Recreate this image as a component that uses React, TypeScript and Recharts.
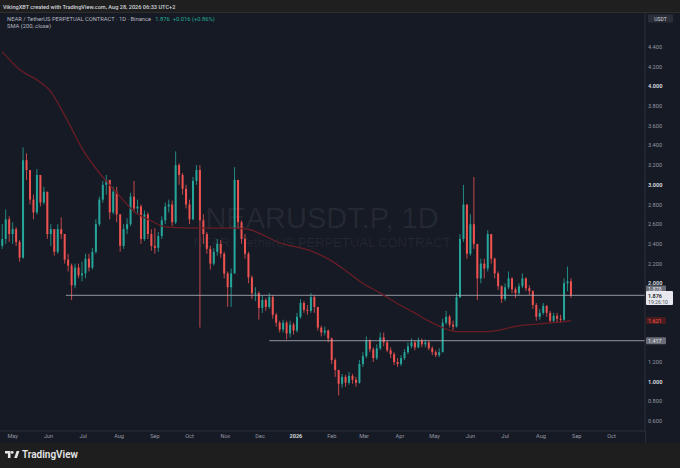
import React from 'react';
import { ComposedChart, Bar, Line, XAxis, YAxis, ReferenceLine } from 'recharts';

const DAY_MS = 86400000;
const FIRST_CANDLE = '2025-04-22';
const CANDLE_STEP_DAYS = 3;

// 3-day candles (open = previous close)
const firstOpen = 2.38;
const closes = [
  2.45, 2.65, 2.5, 2.55, 2.42, 2.26, 3.25, 3.15, 2.85, 2.72,
  3.1, 2.82, 2.93, 2.5, 2.55, 2.32, 2.55, 2.5, 2.24, 2.18,
  1.98, 2.16, 2.08, 2.1, 2.25, 2.16, 2.32, 2.6, 2.85, 3.0,
  3.05, 2.72, 2.93, 2.7, 2.38, 2.55, 2.6, 2.88, 2.76, 2.78,
  2.45, 2.7, 2.5, 2.38, 2.36, 2.48, 2.64, 2.78, 2.8, 2.62,
  3.2, 3.1, 2.96, 2.8, 2.65, 3.04, 3.15, 2.64, 2.5, 2.35,
  2.2, 2.32, 2.4, 2.3, 2.1, 1.96, 2.1, 3.05, 2.62, 2.45,
  2.3, 2.06, 1.9, 1.9, 1.75, 1.83, 1.76, 1.86, 1.68, 1.6,
  1.53, 1.6, 1.49, 1.58, 1.52, 1.66, 1.8, 1.73, 1.72, 1.86,
  1.76, 1.55, 1.5, 1.52, 1.44, 1.22, 1.12, 0.98, 1.05, 0.99,
  1.06, 1.02, 0.99, 1.18, 1.26, 1.42, 1.33, 1.24, 1.34, 1.45,
  1.4, 1.32, 1.28, 1.2, 1.18, 1.24, 1.3, 1.36, 1.4, 1.35,
  1.42, 1.38, 1.4, 1.34, 1.3, 1.27, 1.3, 1.6, 1.66, 1.58,
  1.56, 1.86, 2.45, 2.8, 2.3, 2.6, 2.4, 2.05, 2.2, 2.15,
  2.5, 2.25, 2.1, 1.97, 1.84, 1.96, 2.05, 1.94, 1.9, 1.97,
  2.05, 1.95, 1.92, 1.78, 1.66, 1.7, 1.77, 1.7, 1.62, 1.67,
  1.64, 1.63, 2.0, 2.02, 1.876,
];
const highs = [
  2.6, 2.75, 2.68, 2.62, 2.57, 2.44, 3.38, 3.32, 3.15, 2.9,
  3.16, 3.1, 2.98, 2.93, 2.6, 2.55, 2.6, 2.67, 2.5, 2.3,
  2.2, 2.2, 2.2, 2.22, 2.3, 2.3, 2.36, 2.65, 2.88, 3.04,
  3.1, 3.02, 2.98, 2.98, 2.7, 2.6, 2.66, 2.92, 3.04, 2.85,
  2.8, 2.74, 2.72, 2.55, 2.56, 2.52, 2.68, 2.82, 2.85, 2.84,
  3.34, 3.22, 3.12, 3.0, 2.85, 3.08, 3.2, 3.2, 2.7, 2.52,
  2.38, 2.36, 2.45, 2.44, 2.32, 2.12, 2.15, 3.18, 3.05, 2.64,
  2.5, 2.32, 2.08, 1.96, 1.92, 1.88, 1.85, 1.9, 1.88, 1.7,
  1.62, 1.63, 1.62, 1.62, 1.6, 1.7, 1.84, 1.82, 1.78, 1.9,
  1.88, 1.76, 1.57, 1.56, 1.53, 1.45, 1.24, 1.12, 1.08, 1.07,
  1.1, 1.08, 1.05, 1.22, 1.3, 1.46, 1.43, 1.35, 1.38, 1.5,
  1.5, 1.42, 1.35, 1.3, 1.24, 1.27, 1.33, 1.4, 1.44, 1.42,
  1.45, 1.44, 1.43, 1.42, 1.36, 1.32, 1.34, 1.64, 1.72, 1.68,
  1.62, 1.9, 2.5, 3.0, 2.8, 2.7, 3.08, 2.4, 2.25, 2.25,
  2.54, 2.5, 2.26, 2.12, 1.98, 2.0, 2.12, 2.06, 1.96, 2.0,
  2.1, 2.06, 1.98, 1.93, 1.8, 1.74, 1.8, 1.78, 1.72, 1.7,
  1.7, 1.68, 2.05, 2.17, 2.05,
];
const lows = [
  2.35, 2.4, 2.42, 2.4, 2.38, 2.22, 2.25, 3.05, 2.8, 2.65,
  2.7, 2.78, 2.8, 2.45, 2.38, 2.28, 2.3, 2.45, 2.2, 2.12,
  1.83, 1.95, 2.05, 2.02, 2.05, 2.12, 2.14, 2.3, 2.58, 2.82,
  2.9, 2.65, 2.7, 2.62, 2.32, 2.35, 2.5, 2.58, 2.72, 2.7,
  2.4, 2.43, 2.45, 2.33, 2.3, 2.32, 2.45, 2.6, 2.72, 2.58,
  2.6, 3.0, 2.9, 2.76, 2.6, 2.64, 3.0, 1.55, 2.4, 2.3,
  2.14, 2.18, 2.28, 2.26, 2.05, 1.76, 1.76, 2.1, 2.55, 2.4,
  2.25, 2.0, 1.84, 1.82, 1.63, 1.7, 1.72, 1.74, 1.64, 1.56,
  1.5, 1.5, 1.43, 1.45, 1.48, 1.5, 1.64, 1.7, 1.68, 1.7,
  1.7, 1.52, 1.46, 1.47, 1.4, 1.18, 1.05, 0.86, 0.94, 0.95,
  0.97, 0.98, 0.95, 0.98, 1.15, 1.24, 1.3, 1.2, 1.22, 1.32,
  1.36, 1.3, 1.24, 1.17, 1.15, 1.16, 1.22, 1.28, 1.34, 1.32,
  1.34, 1.35, 1.35, 1.32, 1.27, 1.25, 1.25, 1.3, 1.58, 1.55,
  1.52, 1.55, 1.85, 2.42, 2.25, 2.28, 2.35, 1.83, 2.0, 2.05,
  2.12, 2.2, 2.05, 1.93, 1.8, 1.82, 1.94, 1.9, 1.85, 1.88,
  1.95, 1.92, 1.88, 1.74, 1.62, 1.63, 1.68, 1.66, 1.6, 1.6,
  1.6, 1.6, 1.62, 1.92, 1.85,
];

// SMA(200) readings
const smaDates = [
  '2025-04-22', '2025-05-07', '2025-05-24', '2025-06-02', '2025-06-17', '2025-07-01',
  '2025-07-15', '2025-07-30', '2025-08-13', '2025-08-28', '2025-09-11', '2025-10-10',
  '2025-11-07', '2025-11-20', '2025-12-18', '2026-01-16', '2026-01-30', '2026-02-14',
  '2026-02-28', '2026-03-15', '2026-03-29', '2026-04-12', '2026-04-27', '2026-05-06',
  '2026-05-19', '2026-06-15', '2026-07-14', '2026-08-12', '2026-08-27',
];
const smaValues = [
  4.35, 4.17, 4.05, 3.96, 3.66, 3.35,
  3.12, 2.92, 2.74, 2.64, 2.57, 2.56,
  2.56, 2.55, 2.41, 2.32, 2.24, 2.12,
  2.0, 1.9, 1.8, 1.71, 1.61, 1.56,
  1.51, 1.51, 1.57, 1.6, 1.621,
];

const monthTicks = [
  '2025-05-01', '2025-06-01', '2025-07-01', '2025-08-01', '2025-09-01', '2025-10-01',
  '2025-11-01', '2025-12-01', '2026-01-01', '2026-02-01', '2026-03-01', '2026-04-01',
  '2026-05-01', '2026-06-01', '2026-07-01', '2026-08-01', '2026-09-01', '2026-10-01',
];
const monthLabels = ['May', 'Jun', 'Jul', 'Aug', 'Sep', 'Oct', 'Nov', 'Dec', '2026', 'Feb', 'Mar', 'Apr', 'May', 'Jun', 'Jul', 'Aug', 'Sep', 'Oct'];

const priceTicks = [0.6, 0.8, 1.0, 1.2, 2.0, 2.2, 2.4, 2.6, 2.8, 3.0, 3.2, 3.4, 3.6, 3.8, 4.0, 4.2, 4.4];

const lastPrice = 1.876;
const smaLast = 1.621;
const resistance = 1.878;
const resistanceFrom = '2025-06-16';
const support = 1.417;
const supportFrom = '2025-12-09';
const xRange = ['2025-04-20', '2026-10-30'];
const yRange = [0.5, 4.745];

const UP = '#26a69a';
const DOWN = '#ef5350';
const BG = '#161a25';
const FONT = "Roboto, 'Noto Sans', sans-serif";

const t0 = Date.parse(FIRST_CANDLE);
const candles = closes.map((close, i) => {
  const open = i === 0 ? firstOpen : closes[i - 1];
  const high = Math.max(highs[i], open, close);
  const low = Math.min(lows[i], open, close);
  return { t: t0 + i * CANDLE_STEP_DAYS * DAY_MS, open, close, high, low, range: [low, high] };
});
const sma = smaDates.map((d, i) => ({ t: Date.parse(d), v: smaValues[i] }));
const tickMs = monthTicks.map((d) => Date.parse(d));
const xDomain = xRange.map((d) => Date.parse(d));

const Candle = (props: any) => {
  const { x, y, width, height, payload } = props;
  if (!payload) return null;
  const { open, close, high, low } = payload;
  const top = Math.min(y, y + height);
  const h = Math.abs(height);
  const pix = (v: number) => (high === low ? top : top + ((high - v) / (high - low)) * h);
  const cx = x + width / 2;
  const color = close >= open ? UP : DOWN;
  const b1 = pix(Math.max(open, close));
  const b2 = pix(Math.min(open, close));
  return (
    <g>
      <line x1={cx} x2={cx} y1={top} y2={top + h} stroke={color} strokeWidth={0.8} />
      <rect x={cx - 1} y={b1} width={2} height={Math.max(0.8, b2 - b1)} fill={color} />
    </g>
  );
};

const TimeTick = (props: any) => {
  const { x, y, payload } = props;
  const idx = tickMs.indexOf(payload.value);
  const label = monthLabels[idx];
  const bold = label === '2026';
  return (
    <text x={x} y={y} dy={4} textAnchor="middle" fontSize={5.6} fontFamily={FONT}
      fill={bold ? '#d1d4dc' : '#9598a1'} fontWeight={bold ? 700 : 400}>
      {label}
    </text>
  );
};

const PriceTick = (props: any) => {
  const { x, y, payload } = props;
  const v = payload.value as number;
  const bold = Math.abs(v - Math.round(v)) < 1e-6;
  return (
    <text x={x} y={y} dy={2} textAnchor="start" fontSize={5.6} fontFamily={FONT}
      fill={bold ? '#d1d4dc' : '#9598a1'} fontWeight={bold ? 700 : 400}>
      {v.toFixed(3)}
    </text>
  );
};

const SimpleTag = ({ viewBox, text, bg, fg }: any) => {
  if (!viewBox) return null;
  const x = viewBox.x + viewBox.width + 1;
  const y = viewBox.y;
  return (
    <g>
      <rect x={x} y={y - 3.5} width={20} height={7} rx={1} fill={bg} />
      <text x={x + 2} y={y} dy={2} fontSize={5.4} fontFamily={FONT} fill={fg}>{text}</text>
    </g>
  );
};

const LastTag = ({ viewBox }: any) => {
  if (!viewBox) return null;
  const x = viewBox.x + viewBox.width + 1;
  const y = viewBox.y;
  return (
    <g>
      <rect x={x} y={y - 10} width={20} height={7} rx={1} fill="#6a6d78" />
      <text x={x + 2} y={y - 6.5} dy={2} fontSize={5.4} fontFamily={FONT} fill="#e0e3eb">{resistance.toFixed(3)}</text>
      <rect x={x} y={y - 4.5} width={27} height={14} rx={1} fill="#e6e8ee" />
      <text x={x + 2} y={y} dy={2} fontSize={5.4} fontFamily={FONT} fill="#131722" fontWeight={600}>{lastPrice.toFixed(3)}</text>
      <text x={x + 2} y={y + 6} dy={2} fontSize={5.2} fontFamily={FONT} fill="#50535e">19:26:10</text>
    </g>
  );
};

export default function App() {
  return (
    <div style={{ position: 'absolute', left: 0, top: 0, width: 680, height: 468, background: '#1e1e1e', overflow: 'hidden', fontFamily: FONT }}>
      {/* header */}
      <svg width={680} height={13} style={{ position: 'absolute', left: 0, top: 0 }}>
        <rect x={0} y={0} width={680} height={13} fill="#1f1f1f" />
        <text x={3} y={9} fontSize={5.6} fontFamily={FONT} fill="#d1d4dc" fontWeight={500}>
          VikingXBT created with TradingView.com, Aug 28, 2026 06:33 UTC+2
        </text>
        <line x1={0} x2={680} y1={12.5} y2={12.5} stroke="#2e2e2e" />
      </svg>

      {/* chart body */}
      <div style={{ position: 'absolute', left: 0, top: 13, width: 680, height: 430, background: BG }}>
        <svg width={680} height={430} style={{ position: 'absolute', left: 0, top: 0 }}>
          <text x={322} y={215} textAnchor="middle" fontSize={29} fontFamily="'Liberation Sans', Arial, sans-serif" fill="rgba(178,181,190,0.1)">
            NEARUSDT.P, 1D
          </text>
          <text x={322} y={234} textAnchor="middle" fontSize={13} fontFamily="'Liberation Sans', Arial, sans-serif" fill="rgba(178,181,190,0.09)">
            NEAR / TetherUS PERPETUAL CONTRACT
          </text>
        </svg>
        <div style={{ position: 'absolute', left: 0, top: 0 }}>
          <ComposedChart width={680} height={430} data={candles} margin={{ top: 0, right: 0, bottom: 0, left: 0 }}>
            <XAxis dataKey="t" type="number" scale="linear" domain={xDomain} ticks={tickMs} interval={0}
              allowDataOverflow tick={<TimeTick />} tickLine={false} tickSize={0} tickMargin={3} height={12}
              axisLine={{ stroke: '#2a2e39' }} />
            <YAxis orientation="right" type="number" domain={yRange} ticks={priceTicks} interval={0}
              allowDataOverflow width={35} tick={<PriceTick />} tickLine={false} tickSize={0} tickMargin={3}
              axisLine={{ stroke: '#2a2e39' }} />
            <ReferenceLine segment={[{ x: Date.parse(resistanceFrom), y: resistance }, { x: xDomain[1], y: resistance }]}
              stroke="#b2b5be" strokeOpacity={0.8} strokeWidth={1} />
            <ReferenceLine segment={[{ x: Date.parse(supportFrom), y: support }, { x: xDomain[1], y: support }]}
              stroke="#b2b5be" strokeOpacity={0.8} strokeWidth={1} />
            <Line data={sma} dataKey="v" type="monotone" stroke="#6a1d24" strokeWidth={1.3} dot={false}
              activeDot={false} isAnimationActive={false} />
            <Bar dataKey="range" barSize={3} shape={<Candle />} isAnimationActive={false} />
            <ReferenceLine y={support} stroke="none"
              label={(p: any) => <SimpleTag viewBox={p.viewBox} text={support.toFixed(3)} bg="#6a6d78" fg="#e0e3eb" />} />
            <ReferenceLine y={smaLast} stroke="none"
              label={(p: any) => <SimpleTag viewBox={p.viewBox} text={smaLast.toFixed(3)} bg="#4a1c22" fg="#ff5a3c" />} />
            <ReferenceLine y={lastPrice} stroke="none" label={(p: any) => <LastTag viewBox={p.viewBox} />} />
          </ComposedChart>
        </div>
        <svg width={680} height={430} style={{ position: 'absolute', left: 0, top: 0, pointerEvents: 'none' }}>
          <text x={7} y={8.2} fontSize={5.8} fontFamily={FONT}>
            <tspan fill="#b2b5be">NEAR / TetherUS PERPETUAL CONTRACT · 1D · Binance</tspan>
            <tspan dx={4} fill="#22ab94">{lastPrice.toFixed(3)}</tspan>
            <tspan dx={3} fill="#22ab94">+0.016 (+0.86%)</tspan>
          </text>
          <text x={7} y={15.2} fontSize={5.8} fontFamily={FONT} fill="#b2b5be">SMA (200, close)</text>
          <rect x={648} y={1.5} width={25} height={8} rx={1} fill="#2a2e39" />
          <text x={660.5} y={7.5} textAnchor="middle" fontSize={5} fontFamily={FONT} fill="#d1d4dc">USDT</text>
          <line x1={645.5} x2={645.5} y1={418} y2={430} stroke="#2a2e39" />
        </svg>
      </div>

      {/* footer */}
      <svg width={680} height={25} style={{ position: 'absolute', left: 0, top: 443 }}>
        <rect x={0} y={0} width={680} height={25} fill="#1e1e1e" />
        <path d="M5 8 h5.5 v7 h-2.6 v-4.5 h-2.9 z" fill="#e6e6e6" />
        <circle cx={12.2} cy={9.4} r={1.4} fill="#e6e6e6" />
        <path d="M14.2 15 L16.6 8 H19.4 L17 15 z" fill="#e6e6e6" />
        <text x={22} y={15} fontSize={10} fontFamily={FONT} fontWeight={600} fill="#e6e6e6">TradingView</text>
      </svg>
    </div>
  );
}
